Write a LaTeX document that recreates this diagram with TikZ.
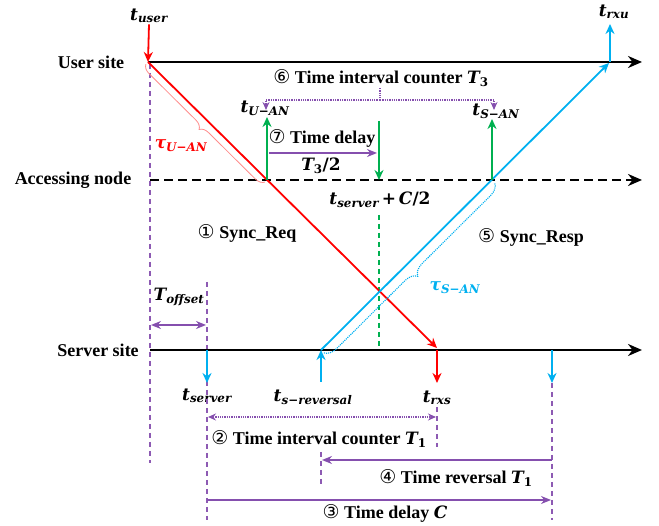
\documentclass[tikz,border=0pt]{standalone}
\usepackage{fontspec}
\setmainfont{Liberation Serif}
\newfontfamily\cfontfam{DejaVu Sans}
\newfontfamily\varfont{DejaVu Serif}
\newcommand{\cnum}[1]{{\cfontfam\mdseries\fontsize{19}{20}\selectfont #1}}
\newcommand{\vsub}[2]{{\varfont\bfseries\itshape #1\textsubscript{#2}}}
\newcommand{\vnum}[2]{{\varfont\bfseries\itshape #1\textsubscript{\upshape #2}}}
\usetikzlibrary{arrows.meta,decorations.pathreplacing}
\definecolor{myred}{RGB}{255,0,0}
\definecolor{myblue}{RGB}{0,176,240}
\definecolor{mygreen}{RGB}{0,176,80}
\definecolor{mypurple}{RGB}{112,48,160}
\definecolor{mypink}{RGB}{255,140,140}
\begin{document}
\begin{tikzpicture}[x=1pt,y=-1pt,
  lbl/.style={font=\fontsize{18}{20}\selectfont\bfseries, inner sep=1pt},
  var/.style={font=\fontsize{17}{20}\selectfont\varfont\bfseries\itshape, inner sep=1pt},
  axisline/.style={line width=2.4pt, -{Stealth[length=14pt,width=12pt]}},
  dashaxis/.style={line width=2.6pt, dash pattern=on 9pt off 5pt, -{Stealth[length=14pt,width=12pt]}},
  redl/.style={myred, line width=1.8pt},
  bluel/.style={myblue, line width=1.8pt},
  greenl/.style={mygreen, line width=1.8pt},
  ctip/.style={-{Stealth[length=10pt,width=9pt]}},
  pdash/.style={mypurple!80, line width=1.4pt, dash pattern=on 5pt off 4pt},
  parr/.style={mypurple!85, line width=1.4pt, -{Stealth[length=10pt,width=8pt]}},
  pdot/.style={mypurple!85, line width=1.3pt, densely dotted},
  pdottip/.style={-{Stealth[length=8pt,width=7pt]}},
  pdotboth/.style={{Stealth[length=8pt,width=7pt]}-{Stealth[length=8pt,width=7pt]}}
]
\useasboundingbox (0,0) rectangle (659,526);

% --- named points
\coordinate (U0) at (148,62);   \coordinate (Uend) at (642,62);
\coordinate (A0) at (150,180);  \coordinate (Aend) at (642,180);
\coordinate (S0) at (150,350);  \coordinate (Send) at (642,350);
\coordinate (RS) at (437,348);  \coordinate (RX) at (437,350); \coordinate (RXd) at (437,383);
\coordinate (SR) at (321,350);  \coordinate (UR) at (609,63);
\coordinate (SRd) at (321,382);
\coordinate (UX) at (610,62);   \coordinate (UXu) at (610,24);
\coordinate (SV) at (207,350);  \coordinate (SVd) at (207,383);
\coordinate (SB) at (552,350);  \coordinate (SBd) at (552,383);
\coordinate (RA) at (267,180);  \coordinate (RAu) at (267,117);
\coordinate (BA) at (492,180);  \coordinate (BAu) at (492,119);
\coordinate (MA) at (379,180);  \coordinate (MAu) at (379,121);
\coordinate (MD1) at (379,215); \coordinate (MD2) at (379,350);

% --- site labels
\node[lbl] (lu) at (91,62) {User site};
\node[lbl] (la) at (73,180) {Accessing node};
\node[lbl] (ls) at (98,350) {Server site};

% --- time labels
\node[var] (tuser) at (149,16) {\vsub{t}{user}};
\node[var] (trxu) at (614,12) {\vsub{t}{rxu}};
\node[var] (tuan) at (265,108) {\vsub{t}{U−AN}};
\node[var] (tsan) at (496,111) {\vsub{t}{S−AN}};
\node[var] (tsc) at (380,200) {\vsub{t}{server}\,{\upshape +}\,\textit{C}{\upshape /2}};
\node[var] (tserver) at (207,396) {\vsub{t}{server}};
\node[var] (trev) at (313,397) {\vsub{t}{s−reversal}};
\node[var] (trxs) at (437,398) {\vsub{t}{rxs}};
\node[var, myred] (tauu) at (181,146) {\vsub{τ}{U−AN}};
\node[var, myblue] (taus) at (455,288) {\vsub{τ}{S−AN}};
\node[var] (toff) at (179,297) {\vsub{T}{offset}};

% --- step labels
\node[lbl] (s6) at (381,78) {\cnum{⑥} Time interval counter {\fontsize{17}{20}\selectfont\vnum{T}{3}}};
\node[lbl] (s7) at (322,138) {\cnum{⑦} Time delay};
\node[var] (t32) at (321,166) {\vnum{T}{3}{\upshape /2}};
\node[lbl] (s1) at (247,233) {\cnum{①} Sync\_Req};
\node[lbl] (s5) at (531,237) {\cnum{⑤} Sync\_Resp};
\node[lbl] (s2) at (319,439) {\cnum{②} Time interval counter {\fontsize{17}{20}\selectfont\vnum{T}{1}}};
\node[lbl] (s4) at (456,478) {\cnum{④} Time reversal {\fontsize{17}{20}\selectfont\vnum{T}{1}}};
\node[lbl] (s3) at (385,513) {\cnum{③} Time delay {\fontsize{17}{20}\selectfont\varfont\itshape C}};

% --- purple dashed guides
\draw[pdash] (150,64) -- (150,463);
\draw[pdash] (207,282) -- (207,520);
\draw[pdash] (552,383) -- (552,520);
\draw[pdash] (437,407) -- (437,447);
\draw[pdash] (321,452) -- (321,487);

% --- green dashed
\draw[mygreen, line width=1.4pt, dash pattern=on 5pt off 4pt] (MD1) -- (MD2);

% --- axes
\draw[axisline] (U0) -- (Uend);
\draw[dashaxis] (A0) -- (Aend);
\draw[axisline] (S0) -- (Send);

% --- red path
\draw[redl, ctip] (tuser.south) -- (U0);
\draw[redl, ctip] (U0) -- (RS);
\draw[redl, ctip] (RX) -- (RXd);

% --- blue path
\draw[bluel, ctip] (SR) -- (UR);
\draw[bluel, ctip] (UX) -- (UXu);
\draw[bluel, ctip] (SRd) -- (SR);
\draw[bluel, ctip] (SV) -- (SVd);
\draw[bluel, ctip] (SB) -- (SBd);

% --- green arrows
\draw[greenl, ctip] (RA) -- (RAu);
\draw[greenl, ctip] (BA) -- (BAu);
\draw[greenl, ctip] (MAu) -- (MA);

% --- braces
\draw[mypink, line width=0.8pt, decorate, decoration={brace, mirror, amplitude=9pt, raise=3pt}] (U0) -- (RA);
\draw[myblue, line width=1.1pt, densely dotted, decorate, decoration={brace, mirror, amplitude=12pt, raise=4pt}] (SR) -- (BA);

% --- purple arrows
\draw[parr] (269,153) -- (377,153);
\draw[parr, {Stealth[length=10pt,width=8pt]}-{Stealth[length=10pt,width=8pt]}] (151,325) -- (206,325);
\draw[pdot] (380,88) -- (380,100);
\draw[pdot, pdottip] (380,100) -| (266,110);
\draw[pdot, pdottip] (380,100) -| (494,110);
\draw[pdot, pdotboth] (208,417) -- (436,417);
\draw[parr] (552,460) -- (322,460);
\draw[parr] (207,500) -- (551,500);
\end{tikzpicture}
\end{document}
